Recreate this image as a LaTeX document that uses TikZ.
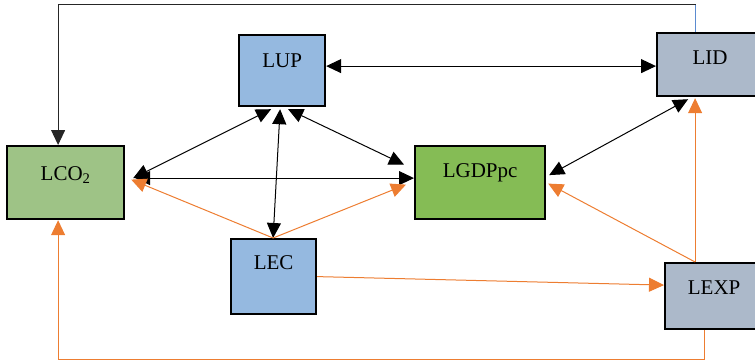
\documentclass[tikz,border=0pt]{standalone}
\usepackage{fontspec}
\setmainfont{Liberation Serif}
\usepackage{xcolor}
\usepackage{tikz}
\usetikzlibrary{arrows.meta}

\definecolor{co2green}{HTML}{9EC386}
\definecolor{gdpgreen}{HTML}{85BC55}
\definecolor{lightblue}{HTML}{95B9E0}
\definecolor{bluegray}{HTML}{ACB9CA}
\definecolor{arroworange}{HTML}{ED7D31}
\definecolor{linkblue}{HTML}{5B8BD0}

\begin{document}
\begin{tikzpicture}[
                        x=1pt,
                        y=-1pt,
                        every node/.style={
                                font=\fontsize{21}{25}\selectfont,
                            },
                        varbox/.style={
                                draw,
                                line width=2.2pt,
                                inner sep=0pt,
                                anchor=north west,
                                align=center,
                            },
                        twoway/.style={
                                line width=1pt,
                                {Triangle[length=15pt,width=14pt]}-{Triangle[length=15pt,width=14pt]},
                            },
                        oneway/.style={
                                line width=1pt,
                                -{Triangle[length=15pt,width=14pt]},
                            },
                        orangeway/.style={
                                oneway,
                                arroworange,
                            },
                    ]

                    \useasboundingbox (0,0) rectangle (755,361);

                    \node[varbox, fill=co2green, minimum width=117pt, text height=34pt, text depth=39pt] (LCO2) at (6,145) {LCO\textsubscript{2}};
                    \node[varbox, fill=lightblue, minimum width=86pt, text height=32pt, text depth=39pt] (LUP) at (238,34) {LUP};
                    \node[varbox, fill=bluegray, minimum width=106pt, text height=31pt, text depth=32pt] (LID) at (656,32) {LID};
                    \node[varbox, fill=gdpgreen, minimum width=130pt, text height=31pt, text depth=42pt] (LGDPpc) at (414,145) {LGDPpc};
                    \node[varbox, fill=lightblue, minimum width=85pt, text height=30pt, text depth=45pt] (LEC) at (230,238) {LEC};
                    \node[varbox, fill=bluegray, minimum width=98pt, text height=31pt, text depth=35pt] (LEXP) at (664,262) {LEXP};

                    \draw[oneway, black!85] ([xshift=-15pt]LID.north) -- ++(0,-27) -| ([xshift=-7.5pt]LCO2.north);
                    \draw[linkblue, line width=1pt] ([xshift=-15pt]LID.north) -- ++(0,-27);

                    \draw[twoway] ([yshift=4.5pt]LUP.east) -- ([yshift=-1.5pt]LID.west);
                    \draw[twoway] ([xshift=-11pt,yshift=-2pt]LUP.south) -- ([xshift=8pt,yshift=4.5pt]LCO2.east);
                    \draw[twoway] ([xshift=10pt,yshift=4.5pt]LCO2.east) -- ([yshift=4.5pt]LGDPpc.west);
                    \draw[twoway] ([xshift=-2pt,yshift=-2pt]LUP.south) -- ([xshift=-0.5pt]LEC.north);
                    \draw[twoway] ([xshift=6pt,yshift=-2pt]LUP.south) -- ([xshift=-10pt,yshift=18pt]LGDPpc.west);
                    \draw[twoway] ([xshift=-22pt,yshift=-2pt]LID.south) -- ([xshift=3pt,yshift=7.5pt]LGDPpc.east);

                    \draw[orangeway] ([xshift=-0.5pt]LEC.north) -- ([xshift=6pt,yshift=3pt]LCO2.east);
                    \draw[orangeway] ([xshift=-0.5pt]LEC.north) -- ([xshift=-8pt,yshift=-2pt]LGDPpc.west);
                    \draw[orangeway] (LEC.east) -- ([yshift=11pt]LEXP.west);
                    \draw[orangeway] ([xshift=-19pt]LEXP.north) -- ([xshift=2pt,yshift=-1pt]LGDPpc.east);
                    \draw[orangeway] ([xshift=-19pt]LEXP.north) -- ([xshift=-15pt,yshift=-1pt]LID.south);
                    \draw[orangeway] ([xshift=-10pt]LEXP.south) -- ++(0,29) -| ([xshift=-7.5pt]LCO2.south);
                \end{tikzpicture}
\end{document}
